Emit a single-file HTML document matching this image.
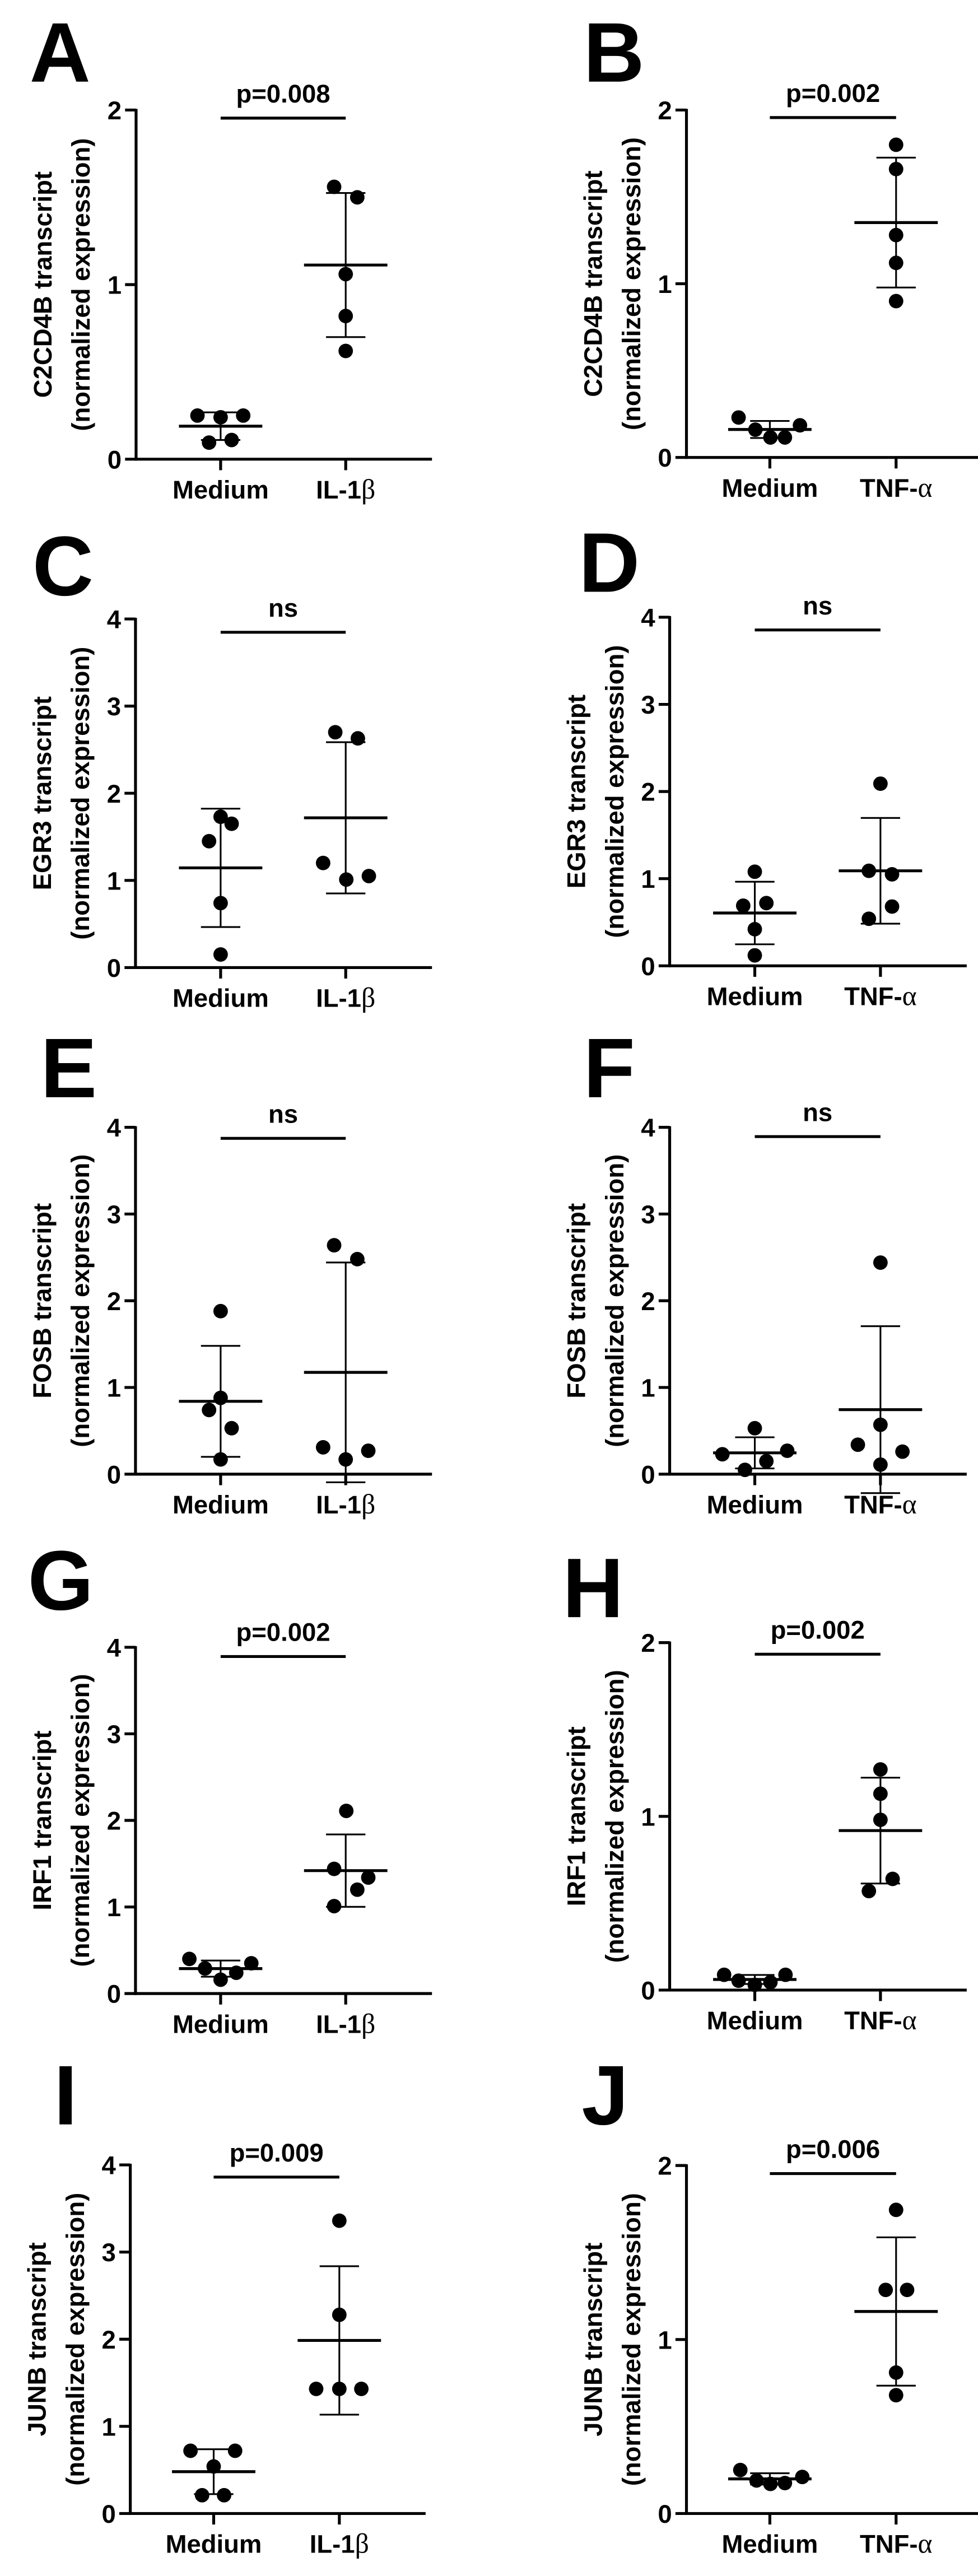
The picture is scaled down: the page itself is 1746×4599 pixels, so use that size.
<!DOCTYPE html>
<html><head><meta charset="utf-8"><style>
html,body{margin:0;padding:0;background:#fff}
svg{display:block}
text{font-family:"Liberation Sans",Arial,sans-serif;font-weight:bold;fill:#000}
</style></head>
<body>
<svg id="fig" width="1746" height="4599" viewBox="0 0 1746 4599" xmlns="http://www.w3.org/2000/svg"></svg>
<script>
// ---- data (one array per series) ----
const panelLetters = ["A","B","C","D","E","F","G","H","I","J"];
const yTitles = ["C2CD4B transcript","C2CD4B transcript","EGR3 transcript","EGR3 transcript","FOSB transcript","FOSB transcript","IRF1 transcript","IRF1 transcript","JUNB transcript","JUNB transcript"];
const pLabels = ["p=0.008","p=0.002","ns","ns","ns","ns","p=0.002","p=0.002","p=0.009","p=0.006"];
const treatLabels = ["IL-1","TNF-"];
const treatGreek = ["\u03B2","\u03B1"];
const yMaxes = [2,2,4,4,4,4,4,2,4,2];
const ticks2 = [0,1,2];
const ticks4 = [0,1,2,3,4];

const mediumA = [0.25,0.24,0.25,0.11,0.095];
const treatA  = [1.56,1.50,1.06,0.82,0.62];
const mediumB = [0.23,0.185,0.16,0.115,0.115];
const treatB  = [1.80,1.66,1.28,1.12,0.90];
const mediumC = [1.73,1.65,1.45,0.74,0.15];
const treatC  = [2.70,2.63,1.20,1.01,1.05];
const mediumD = [1.08,0.72,0.69,0.42,0.12];
const treatD  = [2.09,1.09,1.05,0.68,0.54];
const mediumE = [1.88,0.88,0.74,0.53,0.17];
const treatE  = [2.64,2.48,0.31,0.27,0.17];
const mediumF = [0.53,0.27,0.23,0.15,0.05];
const treatF  = [2.44,0.57,0.34,0.26,0.11];
const mediumG = [0.40,0.35,0.29,0.24,0.16];
const treatG  = [2.11,1.44,1.34,1.20,1.01];
const mediumH = [0.088,0.088,0.054,0.045,0.03];
const treatH  = [1.27,1.13,0.98,0.64,0.57];
const mediumI = [0.72,0.72,0.54,0.21,0.21];
const treatI  = [3.36,2.28,1.43,1.43,1.43];
const mediumJ = [0.25,0.21,0.19,0.17,0.175];
const treatJ  = [1.745,1.285,1.285,0.81,0.68];
const mediumSets = [mediumA,mediumB,mediumC,mediumD,mediumE,mediumF,mediumG,mediumH,mediumI,mediumJ];
const treatSets  = [treatA,treatB,treatC,treatD,treatE,treatF,treatG,treatH,treatI,treatJ];

// ---- layout (style, not data) ----
const jitM = [[-40,0,39,19,-20],[-54,52,-25,1,26],[0,19,-20,0,0],[0,20,-20,0,0],[0,0,-20,19,0],[0,56,-56,20,-17],[-54,53,-27,27,0],[-53,53,-28,27,0],[-40,37,0,-20,18],[-51,56,-23,1,26]];
const jitT = [[-20,20,0,0,0],[0,0,0,0,0],[-18,21,-39,1,40],[0,-20,20,20,-20],[-20,20,-39,39,0],[0,0,-39,38,0],[1,-20,39,20,-20],[0,0,0,21,-20],[0,0,-40,0,38],[0,-18,19,0,0]];
const geo = [
 {ax:235,yTop:190,y0:793,xm:381,xt:597,xe:746,bar:204,lx:51,lb:141},
 {ax:1214,yTop:190,y0:790,xm:1358,xt:1576,xe:1723,bar:203,lx:1036,lb:141},
 {ax:234,yTop:1099,y0:1701,xm:381,xt:597,xe:746,bar:1122,lx:56,lb:1058},
 {ax:1185,yTop:1096,y0:1698,xm:1332,xt:1549,xe:1698,bar:1118,lx:1028,lb:1052},
 {ax:234,yTop:2007,y0:2606,xm:381,xt:597,xe:746,bar:2026,lx:70,lb:1955},
 {ax:1185,yTop:2007,y0:2606,xm:1332,xt:1549,xe:1698,bar:2023,lx:1036,lb:1955},
 {ax:234,yTop:2935,y0:3533,xm:381,xt:597,xe:746,bar:2951,lx:48,lb:2870},
 {ax:1185,yTop:2927,y0:3527,xm:1332,xt:1549,xe:1698,bar:2947,lx:1000,lb:2883},
 {ax:225,yTop:3859,y0:4461,xm:369,xt:586,xe:735,bar:3880,lx:93,lb:3789},
 {ax:1214,yTop:3860,y0:4461,xm:1358,xt:1576,xe:1723,bar:3874,lx:1033,lb:3789}
];
const rowOrig=[0,920,1840,2760,3679];
const K=1.0338;
const NS="http://www.w3.org/2000/svg";
const svg=document.getElementById('fig');
function mk(tag,attrs,parent){const e=document.createElementNS(NS,tag);for(const k in attrs)e.setAttribute(k,attrs[k]);(parent||svg).appendChild(e);return e;}
function line(g,x1,y1,x2,y2,w,name){const l=mk('line',{x1:x1,y1:y1,x2:x2,y2:y2,stroke:'#000','stroke-width':w},g);


return l;}
function meanSd(a){const m=a.reduce((s,v)=>s+v,0)/a.length;const v=a.reduce((s,x)=>s+(x-m)*(x-m),0)/(a.length-1);return [m,Math.sqrt(v)];}

for(let p=0;p<10;p++){
  const G=geo[p], ymax=yMaxes[p];
  const yS=v=>G.y0-(v/ymax)*(G.y0-G.yTop);
  const ox=(p%2)*873, oy=rowOrig[Math.floor(p/2)];
  const g=mk('g',{transform:`translate(${ox},${oy}) scale(${K}) translate(${-ox},${-oy})`});
  
  
  const L=mk('text',{x:G.lx,y:G.lb,'font-size':146},g);L.textContent=panelLetters[p];
  
  
  line(g,G.ax,G.yTop-2,G.ax,G.y0+2.5,5,'y-axis-line');
  line(g,G.ax-2.5,G.y0,G.xe,G.y0,5,'x-axis-line');
  const tks=ymax===2?ticks2:ticks4;
  tks.forEach(t=>{
    const y=yS(t);
    line(g,G.ax-19,y,G.ax,y,5,'y-tick');
    const tl=mk('text',{x:G.ax-25,y:y+16,'font-size':44,'text-anchor':'end'},g);tl.textContent=t;
    
    
  });
  [G.xm,G.xt].forEach(x=>line(g,x,G.y0,x,G.y0+19,5,'x-tick'));
  const ml=mk('text',{x:G.xm,y:G.y0+68,'font-size':44,'text-anchor':'middle'},g);ml.textContent='Medium';
  
  
  const ti=p%2;
  const tl=mk('text',{x:G.xt,y:G.y0+68,'font-size':44,'text-anchor':'middle'},g);
  
  
  tl.appendChild(document.createTextNode(treatLabels[ti]));
  const gs=mk('tspan',{style:'font-family:"Liberation Serif",serif;font-weight:normal','font-size':48},tl);gs.textContent=treatGreek[ti];
  const cy=(G.yTop+G.y0)/2;
  const t1=mk('text',{x:0,y:0,'font-size':44,'text-anchor':'middle',transform:`translate(${G.ax-146},${cy}) rotate(-90)`},g);t1.textContent=yTitles[p];
  
  
  const t2=mk('text',{x:0,y:0,'font-size':44,'text-anchor':'middle',transform:`translate(${G.ax-80},${cy}) rotate(-90)`},g);t2.textContent='(normalized expression)';
  
  
  line(g,G.xm,G.bar,G.xt,G.bar,5,'significance-bar');
  const pt=mk('text',{x:(G.xm+G.xt)/2,y:G.bar-27,'font-size':44,'text-anchor':'middle'},g);pt.textContent=pLabels[p];
  
  
  [[mediumSets[p],G.xm,jitM[p],'medium'],[treatSets[p],G.xt,jitT[p],'treatment']].forEach(([vals,cx,jit,nm])=>{
    vals.forEach((v,i)=>{
      const c=mk('circle',{cx:cx+jit[i],cy:yS(v),r:12.5,fill:'#000'},g);
      
      
    });
    const [m,sd]=meanSd(vals);
    line(g,cx,yS(m+sd),cx,yS(m-sd),3,'error-bar-'+nm);
    line(g,cx-34,yS(m+sd),cx+34,yS(m+sd),3,'error-cap-upper');
    line(g,cx-34,yS(m-sd),cx+34,yS(m-sd),3,'error-cap-lower');
    line(g,cx-72,yS(m),cx+72,yS(m),5,'mean-line-'+nm);
  });
}
</script>
</body></html>
